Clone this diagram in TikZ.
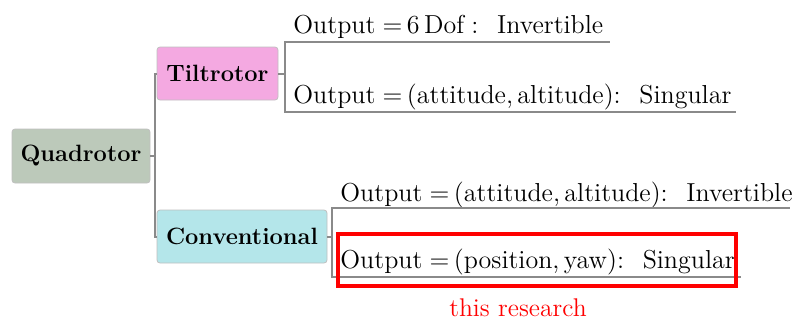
\documentclass[tikz,border=0pt]{standalone}
\usepackage{amsmath}
\usetikzlibrary{positioning}
\definecolor{quadfill}{HTML}{BCC9BA}
\definecolor{tiltfill}{HTML}{F4A9E1}
\definecolor{convfill}{HTML}{B4E6EA}
\definecolor{linkgray}{HTML}{8A8A8A}
\tikzset{
  box/.style={draw=black!25,rounded corners=1.5pt,inner sep=0pt,font=\fontsize{11.8}{13}\selectfont\bfseries},
  link/.style={draw=linkgray,line width=1pt},
  outtext/.style={anchor=base west,inner sep=0pt,font=\fontsize{13}{15}\selectfont}
}
\newcommand{\oeq}{\hspace{.28em}=\hspace{.17em}}
\newcommand{\ocol}{:\hspace{.72em}}
\newcommand{\ocomma}{,\hspace{.17em}}
\begin{document}
\begin{tikzpicture}[x=0.5pt,y=-0.5pt]
  \useasboundingbox (0,0) rectangle (792,322);
  % boxes
  \node[box,fill=quadfill,minimum width=69pt,minimum height=27pt] (quad) at (81,156) {Quadrotor};
  \node[box,fill=tiltfill,minimum width=60.5pt,minimum height=26.5pt] (tilt) at (217.5,73.5) {Tiltrotor};
  \node[box,fill=convfill,minimum width=85pt,minimum height=26.5pt] (conv) at (242,236.5) {Conventional};
  % outputs
  \node[outtext] (tA) at (293,33) {Output\oeq 6\hspace{.17em}Dof\hspace{.28em}\ocol Invertible};
  \node[outtext] (tB) at (293,103) {Output\oeq(attitude\ocomma altitude)\ocol Singular};
  \node[outtext] (cA) at (340,201) {Output\oeq(attitude\ocomma altitude)\ocol Invertible};
  \node[outtext] (cB) at (340,268) {Output\oeq(position\ocomma yaw)\ocol Singular};
  % junctions and line ends
  \coordinate (qj) at (155,156);
  \coordinate (tj) at (285,73.5);
  \coordinate (cj) at (332,236.5);
  \coordinate (tAend) at (610,42);
  \coordinate (tBend) at (736,112);
  \coordinate (cAend) at (790,208);
  \coordinate (cBend) at (741,277);
  % connectors
  \draw[link] (quad.east) -- (qj) |- (tilt.west);
  \draw[link] (qj) |- (conv.west);
  \draw[link] (tilt.east) -- (tj) |- (tAend);
  \draw[link] (tj) |- (tBend);
  \draw[link] (conv.east) -- (cj) |- (cAend);
  \draw[link] (cj) |- (cBend);
  % highlight
  \node[draw=red,line width=2pt,minimum width=199pt,minimum height=26pt,inner sep=0pt] (hl) at (536.5,259.5) {};
  \node[red,anchor=base,inner sep=0pt,font=\fontsize{12.8}{15}\selectfont] (res) at (518,316) {this research};
\end{tikzpicture}
\end{document}
